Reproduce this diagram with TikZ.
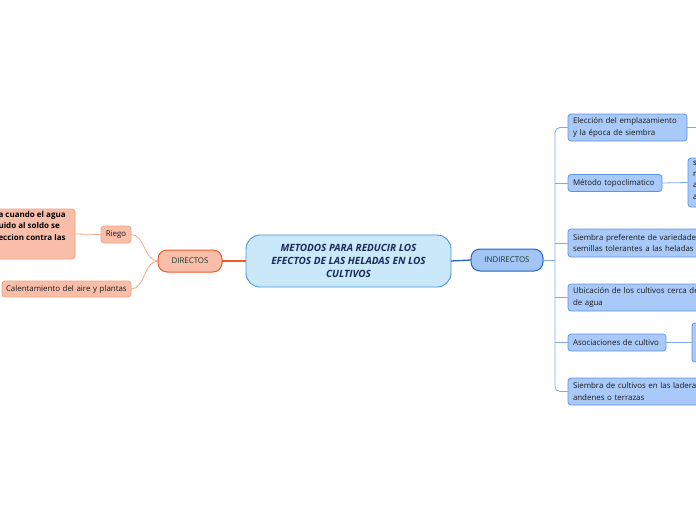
\documentclass[tikz,border=0pt]{standalone}
\usepackage{fontspec}
\setmainfont{Open Sans}
\definecolor{salmonF}{HTML}{F9BEA9}
\definecolor{salmonB}{HTML}{F4A283}
\definecolor{salmonL}{HTML}{F6A88C}
\definecolor{blueF}{HTML}{A9C9F8}
\definecolor{blueB}{HTML}{5E92E8}
\definecolor{blueL}{HTML}{7FA9EC}
\definecolor{navy}{HTML}{1C2A5A}
\definecolor{dgreen}{HTML}{123C2C}
\definecolor{centralB}{HTML}{4A90D9}
\definecolor{centralF}{HTML}{C9E9FB}
\definecolor{dirB}{HTML}{EE5A2A}
\definecolor{indB}{HTML}{2563C9}
\definecolor{indF}{HTML}{A2C5F5}
\begin{document}
\begin{tikzpicture}[x=1pt,y=-1pt,
  every node/.style={inner sep=0pt, outer sep=0pt, font=\fontsize{7.9}{11.3}\selectfont, text=black!90},
  redbox/.style={draw=salmonB, fill=salmonF, rounded corners=3pt, line width=0.8pt},
  bluebox/.style={draw=blueB, fill=blueF, rounded corners=3pt, line width=0.8pt, anchor=west, align=left},
  redline/.style={draw=salmonL, line width=0.8pt},
  blueline/.style={draw=blueL, line width=0.8pt}]
\useasboundingbox (0,0) rectangle (696,520);
\clip (0,0) rectangle (696,520);

% central
\node[draw=centralB, fill=centralF, rounded corners=14pt, line width=0.9pt,
  minimum width=205pt, minimum height=52pt, align=center, text=navy,
  font=\fontsize{10}{13}\selectfont\bfseries\itshape] (main) at (348.5,261)
  {METODOS PARA REDUCIR LOS\\EFECTOS DE LAS HELADAS EN LOS\\CULTIVOS};

% DIRECTOS / INDIRECTOS
\node[draw=dirB, fill=salmonF, rounded corners=9pt, line width=1pt,
  minimum width=64pt, minimum height=22pt, text=dgreen] (dir) at (190,261) {DIRECTOS};
\node[draw=indB, fill=indF, rounded corners=9pt, line width=1pt,
  minimum width=72pt, minimum height=22pt, text=dgreen] (ind) at (507,260) {INDIRECTOS};

\draw[draw=dirB, line width=1.3pt] (main.west) -- (dir.east);
\draw[draw=indB, line width=1.3pt] (main.east) -- (ind.west);

% left children
\node[redbox, minimum width=30pt, minimum height=17pt] (riego) at (116,234.5) {Riego};
\node[redbox, anchor=west, minimum width=129pt, minimum height=16pt, text width=129pt, align=left] (cal) at (2,289) {\hspace*{4pt}Calentamiento del aire y plantas};
\node[redbox, minimum width=120pt, minimum height=50pt] (big) at (15,234) {};
\node[anchor=north west, align=left, font=\fontsize{8}{11.5}\selectfont\bfseries, text=black] (bigt) at (-1.5,211)
  {a cuando el agua\\uido al soldo se\\eccion contra las};

\draw[redline] (dir.west) .. controls (144,261) and (145,234.5) .. (riego.east);
\draw[redline] (dir.west) .. controls (144,261) and (145,289) .. (cal.east);
\draw[redline] (riego.west) -- (big.east);

% right children
\node[bluebox, minimum width=119pt, minimum height=27pt, text width=119pt] (c1) at (568,127.5)
  {\hspace*{5pt}Elección del emplazamiento\\\hspace*{5pt}y la época de siembra};
\node[bluebox, minimum width=94pt, minimum height=17pt, text width=94pt] (c2) at (568,183) {\hspace*{5pt}Método topoclimatico};
\node[bluebox, minimum width=140pt, minimum height=28pt, text width=180pt] (c3) at (568,243)
  {\hspace*{5pt}Siembra preferente de variedades o\\\hspace*{5pt}semillas tolerantes a las heladas};
\node[bluebox, minimum width=140pt, minimum height=27pt, text width=180pt] (c4) at (568,297.5)
  {\hspace*{5pt}Ubicación de los cultivos cerca de\\\hspace*{5pt}de agua};
\node[bluebox, minimum width=98pt, minimum height=17pt, text width=98pt] (c5) at (568,342.5) {\hspace*{5pt}Asociaciones de cultivo};
\node[bluebox, minimum width=140pt, minimum height=27pt, text width=180pt] (c6) at (568,391.5)
  {\hspace*{5pt}Siembra de cultivos en las laderas,\\\hspace*{5pt}andenes o terrazas};

% grandchildren (clipped at right edge)
\node[bluebox, minimum width=60pt, minimum height=49pt] (g2) at (688,182.5) {};
\node[anchor=north west, align=left, text=black] (g2t) at (693,161)
  {s\\r\\a\\a};
\node[bluebox, minimum width=60pt, minimum height=39pt] (g5) at (692,342.5) {};
\coordinate (g1) at (700,127.5);

\draw[blueline] (c1.east) -- (g1);
\draw[blueline] (c2.east) -- (g2.west);
\draw[blueline] (c5.east) -- (g5.west);

% trunk
\coordinate (tr) at (555,260);
\draw[blueline] (ind.east) -- (tr);
\draw[blueline, rounded corners=5pt] (c1.west) -| (tr) |- (c6.west);
\draw[blueline] (c2.west) -- (c2.west -| tr);
\draw[blueline] (c3.west) -- (c3.west -| tr);
\draw[blueline] (c4.west) -- (c4.west -| tr);
\draw[blueline] (c5.west) -- (c5.west -| tr);
\end{tikzpicture}
\end{document}
